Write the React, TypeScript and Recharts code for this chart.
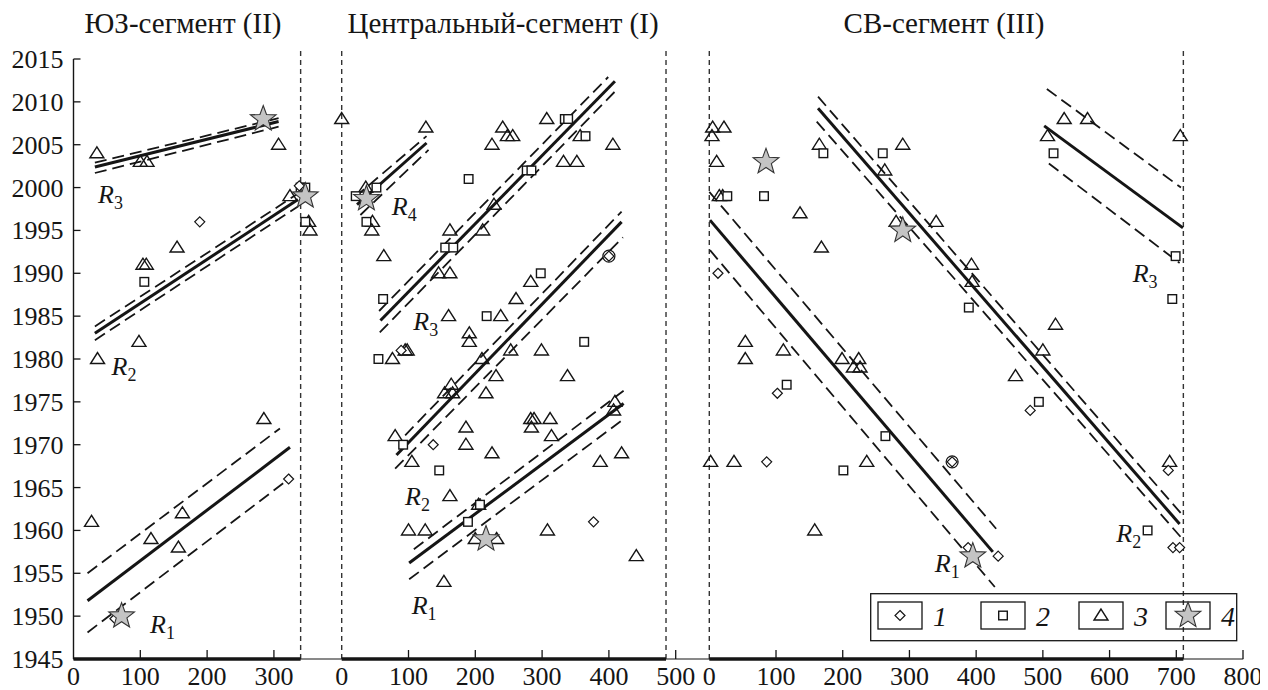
import React from "react";
import { ComposedChart, XAxis, YAxis, Line, Scatter, ReferenceLine, Legend } from "recharts";

type P = [number, number];

// ЮЗ-сегмент (II)
const swTriangles: P[] = [
  [35, 2004], [100, 2003], [110, 2003], [307, 2005], [324, 1999], [352, 1996], [354, 1995],
  [155, 1993], [104, 1991], [109, 1991], [98, 1982], [36, 1980], [285, 1973],
  [27, 1961], [116, 1959], [163, 1962], [157, 1958],
];
const swSquares: P[] = [[340, 2000], [347, 2000], [347, 1996], [106, 1989]];
const swDiamonds: P[] = [[338, 2000.2], [189, 1996], [322, 1966], [62, 1949.7]];
const swCircled: P[] = [];
const swStars: P[] = [[284, 2008], [347, 1999], [72, 1950]];

// Центральный-сегмент (I)
const ctTriangles: P[] = [
  [0, 2008], [126, 2007], [36, 2000], [45, 1995], [46, 1996], [225, 2005], [241, 2007], [248, 2006],
  [256, 2006], [307, 2008], [357, 2006], [406, 2005], [332, 2003], [352, 2003], [228, 1998],
  [162, 1995], [211, 1995], [63, 1992], [145, 1990], [162, 1990], [283, 1989], [261, 1987],
  [160, 1985], [238, 1985], [191, 1983], [191, 1982], [76, 1980], [95, 1981], [98, 1981],
  [210, 1980], [253, 1981], [299, 1981], [338, 1978], [231, 1978], [216, 1976], [164, 1977],
  [154, 1976], [166, 1976], [80, 1971], [186, 1972], [283, 1973], [288, 1973], [312, 1973],
  [284, 1972], [314, 1971], [186, 1970], [225, 1969], [409, 1975], [407, 1974], [419, 1969],
  [387, 1968], [105, 1968], [162, 1964], [205, 1963], [100, 1960], [125, 1960], [200, 1959],
  [232, 1959], [308, 1960], [441, 1957], [153, 1954],
];
const ctSquares: P[] = [
  [21, 1999], [52, 2000], [37, 1996], [190, 2001], [334, 2008], [339, 2008], [365, 2006],
  [277, 2002], [284, 2002], [155, 1993], [167, 1993], [62, 1987], [298, 1990], [217, 1985],
  [55, 1980], [363, 1982], [92, 1970], [146, 1967], [207, 1963], [189, 1961],
];
const ctDiamonds: P[] = [[89, 1981], [137, 1970], [377, 1961]];
const ctCircled: P[] = [[400, 1992]];
const ctStars: P[] = [[37, 1998.7], [216, 1959]];

// СВ-сегмент (III)
const neTriangles: P[] = [
  [5, 2007], [22, 2007], [4, 2006], [11, 2003], [15, 1999], [20, 1999], [136, 1997], [165, 2005],
  [290, 2005], [263, 2002], [280, 1996], [340, 1996], [168, 1993], [393, 1991], [394, 1989],
  [54, 1982], [54, 1980], [111, 1981], [199, 1980], [224, 1980], [216, 1979], [226, 1979],
  [2, 1968], [37, 1968], [236, 1968], [158, 1960], [519, 1984], [500, 1981], [459, 1978],
  [690, 1968], [532, 2008], [567, 2008], [507, 2006], [706, 2006],
];
const neSquares: P[] = [
  [27, 1999], [82, 1999], [171, 2004], [260, 2004], [389, 1986], [116, 1977], [264, 1971],
  [201, 1967], [657, 1960], [699, 1992], [694, 1987], [494, 1975], [516, 2004],
];
const neDiamonds: P[] = [
  [13, 1990], [102, 1976], [86, 1968], [388, 1958], [433, 1957], [695, 1958], [705, 1958],
  [688, 1967], [481, 1974],
];
const neCircled: P[] = [[364, 1968]];
const neStars: P[] = [[85, 2003], [290, 1995], [395, 1957]];

// regression lines: [mid, upper, lower] for each R
const swLines: P[][] = [
  [[21, 1951.8], [324, 1969.7]], [[21, 1955], [309, 1971.9]], [[21, 1948.1], [324, 1966.1]],
  [[32, 1983], [336, 1998.6]], [[32, 1983.8], [336, 1999.3]], [[32, 1982.2], [336, 1997.8]],
  [[32, 2002.4], [307, 2007.7]], [[32, 2002.9], [307, 2008.1]], [[32, 2001.7], [307, 2007.1]],
];
const ctLines: P[][] = [
  [[101, 1956.2], [422, 1974.8]], [[108, 1957.8], [422, 1976.3]], [[101, 1954.3], [424, 1973.1]],
  [[82, 1968.8], [419, 1996]], [[95, 1971.1], [419, 1997.2]], [[80, 1967.2], [421, 1994.2]],
  [[58, 1984.5], [409, 2012.4]], [[56, 1985.6], [399, 2012.9]], [[57, 1983.1], [409, 2011.2]],
  [[23, 1998], [127, 2005.2]], [[20, 1998.9], [127, 2006]], [[28, 1996.8], [130, 2004.4]],
];
const neLines: P[][] = [
  [[1, 1996.2], [425, 1957.5]], [[0, 1999.5], [430, 1960.2]], [[1, 1992.7], [428, 1953.4]],
  [[163, 2009.25], [705, 1960.75]], [[163, 2010.6], [707, 1962]], [[161, 2007.7], [707, 1959.2]],
  [[502, 2007.2], [710, 1995.3]], [[506, 2011.5], [707, 2000]], [[509, 2002.8], [705, 1991.2]],
];

const swLabels = [{ x: 114.5, y: 1948, sub: "1" }, { x: 57, y: 1978.1, sub: "2" }, { x: 36.7, y: 1998.2, sub: "3" }];
const ctLabels = [
  { x: 104.8, y: 1950.3, sub: "1" }, { x: 94.8, y: 1963, sub: "2" },
  { x: 107.2, y: 1983.4, sub: "3" }, { x: 75, y: 1996.8, sub: "4" },
];
const neLabels = [{ x: 338, y: 1955.2, sub: "1" }, { x: 610, y: 1958.7, sub: "2" }, { x: 634.7, y: 1989, sub: "3" }];

const yTicks = [1945, 1950, 1955, 1960, 1965, 1970, 1975, 1980, 1985, 1990, 1995, 2000, 2005, 2010, 2015];
const swTicks = [0, 100, 200, 300];
const ctTicks = [0, 100, 200, 300, 400, 500];
const neTicks = [0, 100, 200, 300, 400, 500, 600, 700, 800];
const legendLabels = ["1", "2", "3", "4"];

const titles = [
  { x: 175, label: "ЮЗ-сегмент (II)" },
  { x: 495, label: "Центральный-сегмент (I)" },
  { x: 936, label: "СВ-сегмент (III)" },
];

const FONT = '"Liberation Serif", "Times New Roman", serif';
const INK = "#151515";

const pts = (a: P[]) => a.map(([x, y]) => ({ x, y }));

const starPath = (cx: number, cy: number, R: number, r: number) => {
  let d = "";
  for (let i = 0; i < 10; i++) {
    const a = (-90 + i * 36) * (Math.PI / 180);
    const rad = i % 2 ? r : R;
    d += (i ? "L" : "M") + (cx + rad * Math.cos(a)).toFixed(2) + "," + (cy + rad * Math.sin(a)).toFixed(2);
  }
  return d + "Z";
};

const Triangle = (p: any) => (
  <polygon
    points={`${p.cx},${p.cy - 6.5} ${p.cx - 7},${p.cy + 4.5} ${p.cx + 7},${p.cy + 4.5}`}
    fill="none" stroke={INK} strokeWidth={1.4}
  />
);
const Square = (p: any) => (
  <rect x={p.cx - 4.3} y={p.cy - 4.3} width={8.6} height={8.6} fill="#fff" stroke={INK} strokeWidth={1.4} />
);
const Diamond = (p: any) => (
  <polygon
    points={`${p.cx},${p.cy - 5} ${p.cx + 5},${p.cy} ${p.cx},${p.cy + 5} ${p.cx - 5},${p.cy}`}
    fill="#fff" stroke={INK} strokeWidth={1.2}
  />
);
const Circled = (p: any) => (
  <g>
    <circle cx={p.cx} cy={p.cy} r={6} fill="#fff" stroke={INK} strokeWidth={1.2} />
    <Diamond cx={p.cx} cy={p.cy} />
  </g>
);
const Star = (p: any) => (
  <path d={starPath(p.cx, p.cy, 13.5, 5.6)} fill="#c4c4c4" stroke="#333" strokeWidth={1.1} />
);
const RLabel = (p: any) => (
  <text x={p.cx} y={p.cy} fontFamily={FONT} fontStyle="italic" fontSize={26} fill={INK}>
    R
    <tspan fontStyle="normal" fontSize={18} dy={6}>
      {p.payload.sub}
    </tspan>
  </text>
);

// bottom axes are stacked 1px apart; shift brings each back to the baseline
const XTick = (props: any) => {
  const { x, payload, shift = 0 } = props;
  const y = props.y + shift;
  return (
    <g>
      {payload.value !== 0 && <line x1={x} x2={x} y1={y} y2={y - 9} stroke={INK} strokeWidth={1.3} />}
      <text x={x} y={y + 26} textAnchor="middle" fontFamily={FONT} fontSize={26} fill={INK}>
        {payload.value}
      </text>
    </g>
  );
};

const YTick = (props: any) => {
  const { x, y, payload } = props;
  return (
    <g>
      <line x1={x} x2={x + 7} y1={y} y2={y} stroke={INK} strokeWidth={1.3} />
      <text x={x - 10} y={y + 9} textAnchor="end" fontFamily={FONT} fontSize={26} fill={INK}>
        {payload.value}
      </text>
    </g>
  );
};

const legendShapes = [Diamond, Square, Triangle, Star];
const legendBoxX = [8, 111, 209, 296];

const LegendBox = () => (
  <svg width={368} height={49} style={{ display: "block" }}>
    <rect x={0.7} y={0.7} width={366} height={47} fill="none" stroke={INK} strokeWidth={1.3} />
    {legendLabels.map((lab, i) => {
      const S = legendShapes[i];
      const bx = legendBoxX[i];
      return (
        <g key={lab}>
          <rect x={bx} y={9} width={44} height={27} fill="none" stroke={INK} strokeWidth={1.3} />
          <S cx={bx + 22} cy={22.5} />
          <text x={bx + 62} y={33} textAnchor="middle" fontFamily={FONT} fontStyle="italic" fontSize={28} fill={INK}>
            {lab}
          </text>
        </g>
      );
    })}
  </svg>
);

// axis ids: a = ЮЗ, b = центральный, c = СВ
const panels = [
  { id: "a", tri: swTriangles, sq: swSquares, dia: swDiamonds, cir: swCircled, star: swStars, lines: swLines, labels: swLabels },
  { id: "b", tri: ctTriangles, sq: ctSquares, dia: ctDiamonds, cir: ctCircled, star: ctStars, lines: ctLines, labels: ctLabels },
  { id: "c", tri: neTriangles, sq: neSquares, dia: neDiamonds, cir: neCircled, star: neStars, lines: neLines, labels: neLabels },
];

// panel borders (vertical dashed) and bold baseline extents
const borders = [
  { id: "a", xs: [340], from: 0, to: 340 },
  { id: "b", xs: [0, 485.5], from: 0, to: 485.5 },
  { id: "c", xs: [0, 710.6], from: 0, to: 710.6 },
];

export default function App() {
  return (
    <div style={{ position: "relative", width: 1260, height: 682 }}>
      <ComposedChart width={1260} height={682} margin={{ top: 51, right: 25, bottom: 0, left: 5.5 }}>
        <YAxis
          type="number"
          dataKey="y"
          domain={[1945, 2015]}
          ticks={yTicks}
          interval={0}
          width={60}
          tickSize={0}
          tickMargin={0}
          tickLine={false}
          tick={<YTick />}
          axisLine={{ stroke: INK, strokeWidth: 1.4 }}
        />
        <XAxis
          xAxisId="a"
          type="number"
          dataKey="x"
          domain={[0, 360]}
          ticks={swTicks}
          interval={0}
          padding={{ left: 0, right: 929 }}
          height={1}
          axisLine={false}
          tickLine={false}
          tickSize={0}
          tickMargin={0}
          tick={<XTick shift={0} />}
        />
        <XAxis
          xAxisId="b"
          type="number"
          dataKey="x"
          domain={[0, 500]}
          ticks={ctTicks}
          interval={0}
          padding={{ left: 268.2, right: 567.3 }}
          height={1}
          axisLine={false}
          tickLine={false}
          tickSize={0}
          tickMargin={0}
          tick={<XTick shift={-1} />}
        />
        <XAxis
          xAxisId="c"
          type="number"
          dataKey="x"
          domain={[0, 800]}
          ticks={neTicks}
          interval={0}
          padding={{ left: 635.8, right: 0 }}
          height={29}
          axisLine={false}
          tickLine={false}
          tickSize={0}
          tickMargin={0}
          tick={<XTick shift={-2} />}
        />

        <ReferenceLine
          xAxisId="a"
          ifOverflow="visible"
          segment={[{ x: 0, y: 1945 }, { x: 1751, y: 1945 }]}
          stroke={INK}
          strokeWidth={1.2}
        />
        {borders.map((b) => (
          <React.Fragment key={"b" + b.id}>
            {b.xs.map((x) => (
              <ReferenceLine
                key={b.id + x}
                xAxisId={b.id}
                ifOverflow="visible"
                segment={[{ x, y: 1945 }, { x, y: 2016.4 }]}
                stroke="#333"
                strokeWidth={1.4}
                strokeDasharray="5 4"
              />
            ))}
            <ReferenceLine
              xAxisId={b.id}
              ifOverflow="visible"
              segment={[{ x: b.from, y: 1945 }, { x: b.to, y: 1945 }]}
              stroke={INK}
              strokeWidth={3.6}
            />
          </React.Fragment>
        ))}

        {panels.map((p) => (
          <React.Fragment key={p.id}>
            {p.lines.map((seg, i) => (
              <Line
                key={p.id + "l" + i}
                xAxisId={p.id}
                data={pts(seg)}
                dataKey="y"
                type="linear"
                stroke={INK}
                strokeWidth={i % 3 === 0 ? 3 : 1.8}
                strokeDasharray={i % 3 === 0 ? undefined : "12 6"}
                dot={false}
                activeDot={false}
                legendType="none"
                isAnimationActive={false}
              />
            ))}
            <Scatter xAxisId={p.id} data={pts(p.tri)} shape={Triangle} legendType="none" isAnimationActive={false} />
            <Scatter xAxisId={p.id} data={pts(p.sq)} shape={Square} legendType="none" isAnimationActive={false} />
            <Scatter xAxisId={p.id} data={pts(p.dia)} shape={Diamond} legendType="none" isAnimationActive={false} />
            <Scatter xAxisId={p.id} data={pts(p.cir)} shape={Circled} legendType="none" isAnimationActive={false} />
            <Scatter xAxisId={p.id} data={pts(p.star)} shape={Star} legendType="none" isAnimationActive={false} />
            <Scatter xAxisId={p.id} data={p.labels} shape={RLabel} legendType="none" isAnimationActive={false} />
          </React.Fragment>
        ))}

        <Legend
          layout="horizontal"
          verticalAlign="middle"
          align="center"
          wrapperStyle={{ left: 862, top: 585, width: 368, height: 49 }}
          content={() => <LegendBox />}
        />
      </ComposedChart>
      <svg width={1260} height={45} style={{ position: "absolute", left: 0, top: 0, pointerEvents: "none" }}>
        {titles.map((t) => (
          <text key={t.label} x={t.x} y={25} textAnchor="middle" fontFamily={FONT} fontSize={29} fill={INK}>
            {t.label}
          </text>
        ))}
      </svg>
    </div>
  );
}
